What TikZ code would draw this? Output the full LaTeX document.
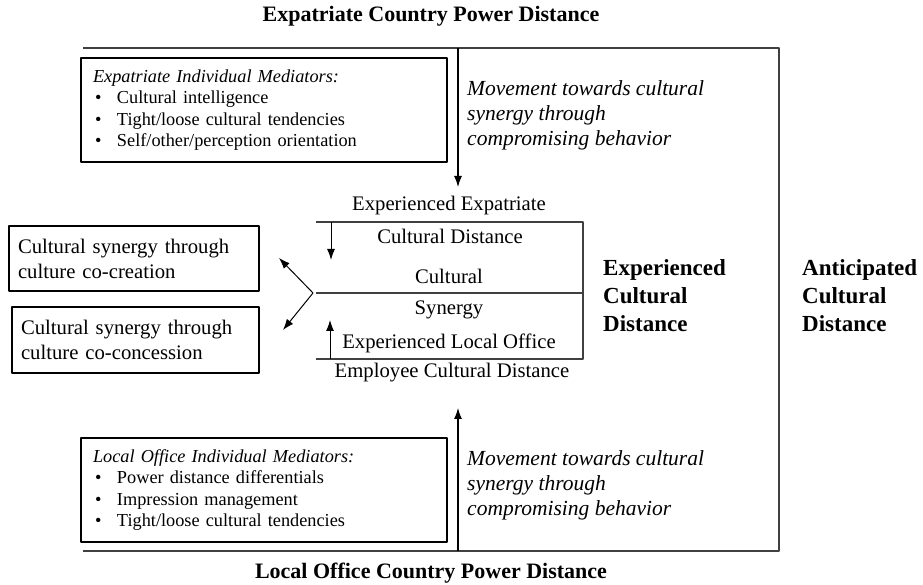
\documentclass[tikz,border=0pt]{standalone}
\usepackage{fontspec}
\setmainfont{Liberation Serif}
\usetikzlibrary{arrows.meta}

\tikzset{
  frame_line/.style={draw=black!75,line width=1.1bp},
  mediator_box/.style={draw,line width=2.8bp,text width=342bp,inner xsep=12bp,inner ysep=0bp,
    minimum height=104bp,align=left,font=\fontsize{18.3bp}{21.5bp}\selectfont},
  synergy_box/.style={draw,line width=1.1bp,inner xsep=9bp,align=left,anchor=center,
    font=\fontsize{20.7bp}{25bp}\selectfont},
  movement_text/.style={anchor=north west,inner sep=0bp,align=left,
    font=\fontsize{21.5bp}{25bp}\selectfont\itshape},
  distance_label/.style={anchor=north west,inner sep=0bp,align=left,
    font=\fontsize{23bp}{28bp}\selectfont\bfseries},
  plain_text/.style={inner sep=0bp,font=\fontsize{20.7bp}{25bp}\selectfont},
  title_text/.style={inner sep=0bp,font=\fontsize{22bp}{26bp}\selectfont\bfseries},
}
\newcommand{\bul}{\hspace*{2bp}\makebox[22bp][l]{\textbullet}}

\begin{document}
\begin{tikzpicture}[>={Latex[length=11bp,width=8bp]},line join=bevel,]
\useasboundingbox (0bp,0bp) rectangle (923bp,585bp);
%%
\node (top_title) at (431bp,569bp) [title_text] {Expatriate Country Power Distance};
\node (bottom_title) at (431bp,12bp) [title_text] {Local Office Country Power Distance};
%
\coordinate (frame_nw) at (83bp,537bp);
\coordinate (frame_ne) at (779bp,537bp);
\coordinate (frame_se) at (779bp,34bp);
\coordinate (frame_sw) at (83bp,34bp);
\draw [frame_line] (frame_nw) -- (frame_ne) -- (frame_se) -- (frame_sw);
%
\node (expat_box) at (264bp,475bp) [mediator_box] {\textit{Expatriate Individual Mediators:}\\
  \bul Cultural intelligence\\
  \bul Tight/loose cultural tendencies\\
  \bul Self/other/perception orientation};
\node (local_box) at (264bp,95bp) [mediator_box] {\textit{Local Office Individual Mediators:}\\
  \bul Power distance differentials\\
  \bul Impression management\\
  \bul Tight/loose cultural tendencies};
%
\node (expat_move) at (467bp,505bp) [movement_text] {Movement towards cultural\\synergy through\\compromising behavior};
\node (local_move) at (467bp,135bp) [movement_text] {Movement towards cultural\\synergy through\\compromising behavior};
\coordinate (expat_push) at (458bp,537bp);
\coordinate (expat_stop) at (458bp,398bp);
\coordinate (local_push) at (458bp,34bp);
\coordinate (local_stop) at (458bp,177bp);
\draw [black,line width=1.1bp,->] (expat_push) -- (expat_stop);
\draw [black,line width=1.1bp,->] (local_push) -- (local_stop);
%
\coordinate (band_top_w) at (316bp,363bp);
\coordinate (band_top_e) at (583bp,363bp);
\coordinate (band_mid_w) at (316bp,292bp);
\coordinate (band_mid_e) at (583bp,292bp);
\coordinate (band_bot_w) at (316bp,226bp);
\coordinate (band_bot_e) at (583bp,226bp);
\draw [frame_line] (band_top_w) -- (band_top_e) -- (band_bot_e) -- (band_bot_w);
\draw [frame_line] (band_mid_w) -- (band_mid_e);
%
\node (expat_dist_a) at (449bp,379bp) [plain_text] {Experienced Expatriate};
\node (expat_dist_b) at (450bp,349bp) [plain_text] {Cultural Distance};
\node (synergy_a) at (449bp,309bp) [plain_text] {Cultural};
\node (synergy_b) at (449bp,275bp) [plain_text] {Synergy};
\node (local_dist_a) at (449bp,242bp) [plain_text] {Experienced Local Office};
\node (local_dist_b) at (452bp,212bp) [plain_text] {Employee Cultural Distance};
\coordinate (down_from) at (331bp,363bp);
\coordinate (down_to) at (331bp,325bp);
\coordinate (up_from) at (330bp,226bp);
\coordinate (up_to) at (330bp,265bp);
\draw [black,line width=1bp,->] (down_from) -- (down_to);
\draw [black,line width=1bp,->] (up_from) -- (up_to);
%
\node (co_creation) at (134bp,326.5bp) [synergy_box,minimum width=250bp,minimum height=65bp,text width=232bp]
  {Cultural synergy through\\culture co-creation};
\node (co_concession) at (135.5bp,245bp) [synergy_box,minimum width=247bp,minimum height=66bp,text width=229bp]
  {Cultural synergy through\\culture co-concession};
\coordinate (split) at (313bp,292bp);
\coordinate (split_up) at (279bp,327bp);
\coordinate (split_down) at (283bp,255bp);
\draw [black,line width=1bp,->] (split) -- (split_up);
\draw [black,line width=1bp,->] (split) -- (split_down);
%
\node (experienced_label) at (603bp,326bp) [distance_label] {Experienced\\Cultural\\Distance};
\node (anticipated_label) at (802bp,326bp) [distance_label] {Anticipated\\Cultural\\Distance};
%
\end{tikzpicture}
\end{document}
